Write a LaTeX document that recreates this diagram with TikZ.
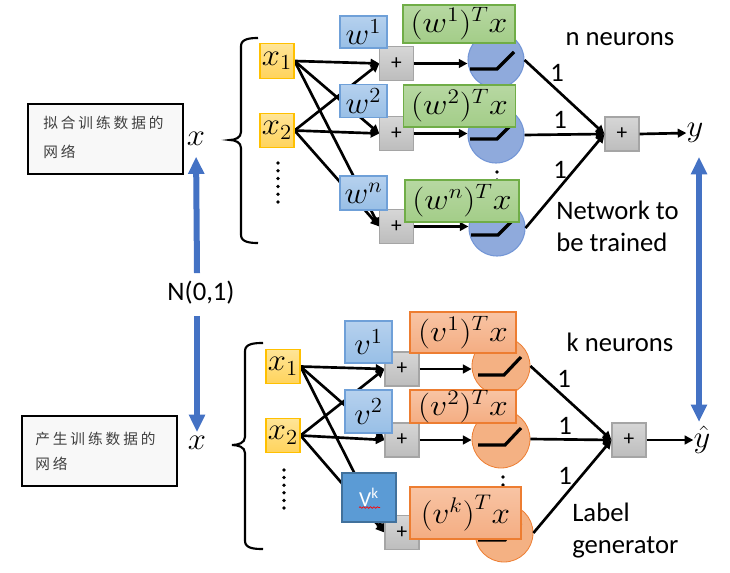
\documentclass[tikz,border=0pt]{standalone}
\usepackage{fontspec}
\setmainfont{Carlito}
\newfontfamily\cjk[LetterSpace=20]{Noto Sans CJK SC}
\usetikzlibrary{arrows.meta,decorations.pathmorphing,calc}
\pgfdeclarelayer{bg}
\pgfsetlayers{bg,main}
\newcommand{\wideboxmath}[1]{\scalebox{1.22}[1.08]{#1}}
\newcommand{\smallboxmath}[1]{\scalebox{1.18}[1.12]{#1}}
\definecolor{yT}{HTML}{FFE597}
\definecolor{yB}{HTML}{FFD35C}
\definecolor{yD}{HTML}{FFC000}
\definecolor{bT}{HTML}{B6D1EE}
\definecolor{bB}{HTML}{98BFE6}
\definecolor{bD}{HTML}{6FA0D8}
\definecolor{gT}{HTML}{B7D8A2}
\definecolor{gB}{HTML}{A3CD88}
\definecolor{gD}{HTML}{70AD47}
\definecolor{pT}{HTML}{D6D6D6}
\definecolor{pB}{HTML}{BDBDBD}
\definecolor{pD}{HTML}{A5A5A5}
\definecolor{nF}{HTML}{8FAADC}
\definecolor{nD}{HTML}{7396D6}
\definecolor{oT}{HTML}{F8C4A4}
\definecolor{oB}{HTML}{F4AD82}
\definecolor{oD}{HTML}{ED7D31}
\definecolor{oF}{HTML}{F4B183}
\definecolor{vF}{HTML}{5B9BD5}
\definecolor{vD}{HTML}{41719C}
\definecolor{aB}{HTML}{4472C4}
\definecolor{cjkc}{HTML}{404040}
\definecolor{cbox}{HTML}{F8F8F8}
\begin{document}
\begin{tikzpicture}[x=0.75pt,y=-0.75pt,
  every node/.style={inner sep=0pt},
  xin/.style={draw=yD, line width=0.8pt, top color=yT, bottom color=yB, minimum width=25.5pt, minimum height=26pt, font=\fontsize{20}{20}\selectfont},
  wbox/.style={draw=bD, line width=0.8pt, top color=bT, bottom color=bB, minimum width=35.25pt, font=\fontsize{20}{20}\selectfont},
  pbox/.style={draw=pD, line width=0.8pt, top color=pT, bottom color=pB, minimum width=25pt, minimum height=25pt, font=\fontsize{16}{16}\selectfont},
  gbox/.style={draw=gD, line width=0.8pt, top color=gT, bottom color=gB, font=\fontsize{20}{20}\selectfont},
  obox/.style={draw=oD, line width=0.8pt, top color=oT, bottom color=oB, font=\fontsize{20}{20}\selectfont},
  bneu/.style={circle, draw=nD, fill=nF, line width=0.8pt, minimum size=42pt},
  oneu/.style={circle, draw=oD, fill=oF, line width=0.6pt, minimum size=43.5pt},
  conn/.style={line width=2pt, -{Triangle[length=6.5pt,width=6.5pt]}},
  ramp/.style={line width=2.4pt},
  lbl/.style={font=\fontsize{20}{20}\selectfont},
  mlbl/.style={font=\fontsize{20}{20}\selectfont},
  brace/.style={line width=1.6pt},
  barrow/.style={draw=aB, line width=4.5pt, -{Triangle[length=13pt,width=11.5pt]}},
  barrowboth/.style={draw=aB, line width=4.5pt, {Triangle[length=13pt,width=11.5pt]}-{Triangle[length=13pt,width=11.5pt]}},
  cjkbox/.style={draw=black, fill=cbox, line width=0.9pt, minimum width=116.25pt, minimum height=52.5pt},
  cjktext/.style={font=\cjk\fontsize{11}{13}\selectfont, text=cjkc, anchor=west},
]
\useasboundingbox (0,0) rectangle (730,573);

% ---------------- left side ----------------
\node[cjkbox] (cb1) at (105.5,139) {};
\node[cjktext] (ct1a) at (43,123) {拟合训练数据的};
\node[cjktext] (ct1b) at (43,152) {网络};
\node[cjkbox] (cb2) at (99.5,451) {};
\node[cjktext] (ct2a) at (35,439) {产生训练数据的};
\node[cjktext] (ct2b) at (35,464) {网络};

\node[mlbl] (xa) at (196,139) {\smallboxmath{$x$}};
\node[mlbl] (xb) at (197,443) {\smallboxmath{$x$}};
\node[lbl] (nd) at (201,293) {N(0,1)};
\draw[barrow, shorten >=8pt] ($(nd.north)+(-4,-8)$) -- (xa.south);
\draw[barrow, shorten >=3pt] ($(nd.south)+(-4,11)$) -- (xb.north);

% braces
\draw[brace] (258,38) to[out=180,in=90] (241,46) -- (241,132) to[out=-90,in=0] (230,140) to[out=0,in=90] (241,148) -- (241,235) to[out=-90,in=180] (258,243);
\draw[brace] (263,343) to[out=180,in=90] (245,351) -- (245,437) to[out=-90,in=0] (232,445) to[out=0,in=90] (245,453) -- (245,541) to[out=-90,in=180] (263,549);

% vertical dots
\foreach \i in {0,...,5} {
  \fill (278,{163+7.8*\i}) circle[radius=1.4pt];
  \fill (284,{470+7.6*\i}) circle[radius=1.4pt];
}

% ---------------- top network ----------------
\node[xin] (tx1) at (277,61) {\smallboxmath{$x_1$}};
\node[xin] (tx2) at (277,130.5) {\smallboxmath{$x_2$}};
\node[pbox] (tp1) at (396.5,63.5) {+};
\node[pbox] (tp2) at (396.5,133.5) {+};
\node[pbox] (tpn) at (396.5,226.5) {+};
\node[wbox, minimum height=24pt] (tw1) at (363.5,32) {\smallboxmath{$w^1$}};
\node[wbox, minimum height=24.75pt] (tw2) at (363.5,101) {\smallboxmath{$w^2$}};
\node[wbox, minimum height=25.5pt] (twn) at (363.5,193) {\smallboxmath{$w^n$}};

\begin{pgfonlayer}{bg}
\foreach \s in {tx1,tx2} {
  \foreach \t in {tp1,tp2,tpn} {
    \draw[conn] (\s.east) -- (\t.west);
  }
}
\end{pgfonlayer}

\fill (497,172) circle[radius=1.4pt];
\fill (497,180) circle[radius=1.4pt];

\node[bneu] (tn1) at (496,60) {};
\node[bneu] (tn2) at (496,135) {};
\node[bneu] (tnn) at (497,228) {};
\draw[ramp] ([shift={(-26,9)}]tn1.center) -- ++(27,0) -- ++(17,-17);
\draw[ramp] ([shift={(-26,4)}]tn2.center) -- ++(27,0) -- ++(17,-17);
\draw[ramp] ([shift={(-26,7)}]tnn.center) -- ++(27,0) -- ++(17,-17);

\draw[conn] (tp1.east) -- (tp1.east -| tn1.west);
\draw[conn] (tp2.east) -- (tp2.east -| tn2.west);
\draw[conn] (tpn.east) -- (tpn.east -| tnn.west);

\node[gbox, minimum width=84pt, minimum height=28.5pt] (tg1) at (459,24) {\wideboxmath{$(w^{1})^{T}x$}};
\node[gbox, minimum width=84pt, minimum height=31.5pt] (tg2) at (459.5,106) {\wideboxmath{$(w^{2})^{T}x$}};
\node[gbox, minimum width=85.5pt, minimum height=31.5pt] (tgn) at (462,201) {\wideboxmath{$(w^{n})^{T}x$}};

\node[pbox, minimum width=25.5pt, minimum height=25.5pt] (ts) at (622,134) {+};
\draw[conn] (tn1.east) -- (ts.west);
\draw[conn] (tn2.east) -- (ts.west);
\draw[conn] (tnn.east) -- (ts.west);
\node[lbl] (tl1) at (557,73) {1};
\node[lbl] (tl2) at (560,120) {1};
\node[lbl] (tl3) at (560,170) {1};
\node[mlbl] (ty) at (695,133) {\smallboxmath{$y$}};
\draw[conn] (ts.east) -- (ty.west);

\node[lbl] (tnh) at (620,39) {n neurons};
\node[lbl, anchor=west, align=left, font=\fontsize{20}{24}\selectfont] (tnt) at (556,226) {Network to\\be trained};

% ---------------- bottom network ----------------
\node[xin] (bx1) at (283,366.5) {\smallboxmath{$x_1$}};
\node[xin] (bx2) at (283,435.5) {\smallboxmath{$x_2$}};
\node[pbox, minimum width=25.5pt, minimum height=25.5pt] (bp1) at (402,369) {+};
\node[pbox, minimum width=25.5pt, minimum height=25.5pt] (bp2) at (402,440) {+};
\node[pbox, minimum width=25.5pt, minimum height=25.5pt] (bpk) at (402,532.5) {+};
\node[wbox, minimum height=31.5pt] (bv1) at (368.5,342) {\smallboxmath{$v^1$}};
\node[wbox, minimum height=32.25pt] (bv2) at (368.5,411.5) {\smallboxmath{$v^2$}};
\node[draw=vD, fill=vF, line width=1.6pt, minimum width=40.5pt, minimum height=36.75pt, text=white, font=\fontsize{16}{16}\selectfont] (bvk) at (369,497.5) {V\textsuperscript{k}};
\draw[red, line width=0.5pt, decorate, decoration={snake, amplitude=0.6pt, segment length=2.6pt}] ($(bvk.center)+(-10,10)$) -- ($(bvk.center)+(11,10)$);

\begin{pgfonlayer}{bg}
\foreach \s in {bx1,bx2} {
  \foreach \t in {bp1,bp2,bpk} {
    \draw[conn] (\s.east) -- (\t.west);
  }
}
\end{pgfonlayer}

\fill (503,477) circle[radius=1.4pt];
\fill (503,485) circle[radius=1.4pt];

\node[oneu] (bn1) at (501,366) {};
\node[oneu] (bn2) at (501,439) {};
\node[oneu] (bnk) at (504,533) {};
\draw[ramp] ([shift={(-23,9)}]bn1.center) -- ++(26,0) -- ++(17,-18);
\draw[ramp] ([shift={(-23,6)}]bn2.center) -- ++(27,0) -- ++(16,-17);
\draw[ramp] ([shift={(-26,7)}]bnk.center) -- ++(27,0) -- ++(16,-17);

\draw[conn] (bp1.east) -- (bp1.east -| bn1.west);
\draw[conn] (bp2.east) -- (bp2.east -| bn2.west);
\draw[conn] (bpk.east) -- (bpk.east -| bnk.west);

\node[obox, minimum width=79.5pt, minimum height=30.75pt] (bo1) at (463,332.5) {\wideboxmath{$(v^{1})^{T}x$}};
\node[obox, minimum width=79.5pt, minimum height=24.75pt] (bo2) at (463,406.5) {\wideboxmath{$(v^{2})^{T}x$}};
\node[obox, minimum width=83.25pt, minimum height=39pt] (bok) at (465.5,513) {\scalebox{1.2}[1.1]{$\bigl(v^{k}\bigr)^{T}x$}};

\node[pbox, minimum width=25.5pt, minimum height=25.5pt] (bs) at (629,440) {+};
\draw[conn] (bn1.east) -- (bs.west);
\draw[conn] (bn2.east) -- (bs.west);
\draw[conn] (bnk.east) -- (bs.west);
\node[lbl] (bl1) at (564,379) {1};
\node[lbl] (bl2) at (565,426) {1};
\node[lbl] (bl3) at (565,476) {1};
\node[mlbl] (byh) at (702,440) {\smallboxmath{$\hat{y}$}};
\draw[conn] (bs.east) -- (byh.west);

\node[lbl] (bkh) at (620,342) {k neurons};
\node[lbl, anchor=west, align=left, font=\fontsize{20}{24}\selectfont] (blg) at (572,531) {Label\\generator};

% right double arrow
\draw[barrowboth] ($(ty.south)+(4,14)$) -- ($(ty.south |- byh.north)+(4,-4)$);
\end{tikzpicture}
\end{document}
